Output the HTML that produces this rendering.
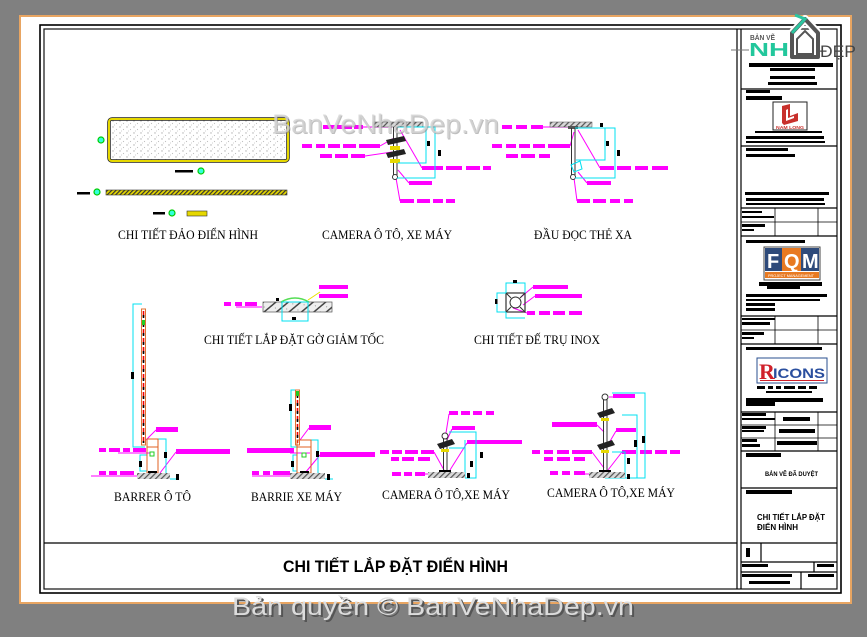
<!DOCTYPE html>
<html><head><meta charset="utf-8">
<style>html,body{margin:0;padding:0;background:#808080;overflow:hidden}svg{display:block}</style>
</head><body>
<svg width="867" height="637" viewBox="0 0 867 637" xmlns="http://www.w3.org/2000/svg">
<defs>
<pattern id="dots" width="7" height="6" patternUnits="userSpaceOnUse"><rect width="7" height="6" fill="#fff"/><circle cx="1" cy="1" r="0.7" fill="#b0b0b0"/><circle cx="4.5" cy="3.5" r="0.6" fill="#c0c0c0"/><circle cx="2.5" cy="5" r="0.4" fill="#999"/></pattern>
<pattern id="yh" width="3" height="3" patternUnits="userSpaceOnUse" patternTransform="rotate(45)"><rect width="3" height="3" fill="#e6d800"/><rect width="1.2" height="3" fill="#333"/></pattern>
<pattern id="gh" width="4" height="4" patternUnits="userSpaceOnUse" patternTransform="rotate(45)"><rect width="4" height="4" fill="#d8d8d8"/><rect width="1.2" height="4" fill="#555"/></pattern>
<pattern id="gh2" width="8" height="8" patternUnits="userSpaceOnUse" patternTransform="rotate(50)"><rect width="8" height="8" fill="#eee"/><rect width="1.5" height="8" fill="#444"/><circle cx="5" cy="3" r="0.5" fill="#777"/></pattern>
</defs>
<rect width="867" height="637" fill="#808080"/>
<!-- sheet -->
<rect x="20" y="16" width="831" height="587" fill="#fff" stroke="#e8a562" stroke-width="2"/>
<!-- frame -->
<rect x="40" y="25" width="801" height="568" fill="none" stroke="#000" stroke-width="1.6"/>
<rect x="44" y="29" width="793" height="560" fill="none" stroke="#111" stroke-width="1.2"/>
<line x1="737" y1="29" x2="737" y2="589" stroke="#000" stroke-width="1.2"/>
<line x1="741" y1="29" x2="741" y2="589" stroke="#000" stroke-width="1.2"/>
<line x1="44" y1="543" x2="737" y2="543" stroke="#000" stroke-width="1.2"/>
<text x="283" y="572" font-family="Liberation Sans, sans-serif" font-weight="bold" font-size="17" textLength="225" lengthAdjust="spacingAndGlyphs">CHI TIẾT LẮP ĐẶT ĐIỂN HÌNH</text>

<!-- captions -->
<g font-family="Liberation Serif, serif" font-size="13" fill="#000">
<text x="118" y="239" textLength="140" lengthAdjust="spacingAndGlyphs">CHI TIẾT ĐẢO ĐIỂN HÌNH</text>
<text x="322" y="239" textLength="130" lengthAdjust="spacingAndGlyphs">CAMERA Ô TÔ, XE MÁY</text>
<text x="534" y="239" textLength="98" lengthAdjust="spacingAndGlyphs">ĐẦU ĐỌC THẺ XA</text>
<text x="204" y="344" textLength="180" lengthAdjust="spacingAndGlyphs">CHI TIẾT LẮP ĐẶT GỜ GIẢM TỐC</text>
<text x="474" y="344" textLength="126" lengthAdjust="spacingAndGlyphs">CHI TIẾT ĐẾ TRỤ INOX</text>
<text x="114" y="501" textLength="77" lengthAdjust="spacingAndGlyphs">BARRER Ô TÔ</text>
<text x="251" y="501" textLength="91" lengthAdjust="spacingAndGlyphs">BARRIE XE MÁY</text>
<text x="382" y="499" textLength="128" lengthAdjust="spacingAndGlyphs">CAMERA Ô TÔ,XE MÁY</text>
<text x="547" y="497" textLength="128" lengthAdjust="spacingAndGlyphs">CAMERA Ô TÔ,XE MÁY</text>
</g>

<!-- Detail 1: dao -->
<rect x="109" y="119" width="179" height="42" rx="3" fill="url(#dots)" stroke="#222" stroke-width="3.5"/>
<rect x="109" y="119" width="179" height="42" rx="3" fill="none" stroke="#e6d800" stroke-width="2"/>
<circle cx="101" cy="140" r="3" fill="#3fd" stroke="#0c0" stroke-width="1.2"/>
<rect x="175" y="170" width="18" height="2.5" fill="#000"/>
<circle cx="201" cy="171" r="3" fill="#3fd" stroke="#0c0" stroke-width="1.2"/>
<rect x="106" y="190" width="181" height="5" fill="url(#yh)" stroke="#333" stroke-width="0.6"/>
<rect x="77" y="192" width="13" height="2.5" fill="#000"/>
<circle cx="97" cy="192" r="3" fill="#3fd" stroke="#0c0" stroke-width="1.2"/>
<rect x="153" y="212" width="12" height="2.5" fill="#000"/>
<circle cx="172" cy="213" r="3" fill="#3fd" stroke="#0c0" stroke-width="1.2"/>
<rect x="187" y="211" width="20" height="5" fill="#e6d800" stroke="#333" stroke-width="0.6"/>

<g fill="#ff00ff">
<!-- Detail 2 -->
<rect x="323" y="125" width="12" height="4"/><rect x="337" y="125" width="15" height="4"/><rect x="354" y="125" width="9" height="4"/>
<rect x="302" y="144" width="10" height="4"/><rect x="316" y="144" width="9" height="4"/><rect x="328" y="144" width="12" height="4"/><rect x="343" y="144" width="13" height="4"/><rect x="359" y="144" width="21" height="4"/>
<rect x="320" y="154" width="12" height="4"/><rect x="335" y="154" width="13" height="4"/><rect x="351" y="154" width="14" height="4"/>
<rect x="422" y="166" width="21" height="4"/><rect x="446" y="166" width="16" height="4"/><rect x="466" y="166" width="14" height="4"/><rect x="483" y="166" width="8" height="4"/>
<rect x="409" y="181" width="23" height="4"/>
<rect x="400" y="199" width="14" height="4"/><rect x="417" y="199" width="13" height="4"/><rect x="433" y="199" width="10" height="4"/><rect x="446" y="199" width="9" height="4"/>
<!-- Detail 3 -->
<rect x="502" y="125" width="10" height="4"/><rect x="516" y="125" width="11" height="4"/><rect x="531" y="125" width="12" height="4"/>
<rect x="492" y="144" width="10" height="4"/><rect x="506" y="144" width="10" height="4"/><rect x="519" y="144" width="11" height="4"/><rect x="533" y="144" width="12" height="4"/><rect x="548" y="144" width="22" height="4"/>
<rect x="506" y="154" width="12" height="4"/><rect x="521" y="154" width="14" height="4"/><rect x="539" y="154" width="11" height="4"/>
<rect x="600" y="166" width="14" height="4"/><rect x="617" y="166" width="14" height="4"/><rect x="635" y="166" width="13" height="4"/><rect x="652" y="166" width="16" height="4"/>
<rect x="587" y="181" width="24" height="4"/>
<rect x="577" y="199" width="13" height="4"/><rect x="593" y="199" width="13" height="4"/><rect x="610" y="199" width="10" height="4"/><rect x="624" y="199" width="9" height="4"/>
<!-- Detail 4 -->
<rect x="156" y="427" width="22" height="5"/>
<rect x="99" y="448" width="7" height="4"/><rect x="109" y="448" width="11" height="4"/><rect x="123" y="448" width="7" height="4"/><rect x="133" y="448" width="13" height="4"/>
<rect x="176" y="449" width="54" height="5"/>
<rect x="99" y="471" width="7" height="4"/><rect x="109" y="471" width="8" height="4"/><rect x="120" y="471" width="14" height="4"/>
<!-- Detail 5 -->
<rect x="309" y="425" width="22" height="5"/>
<rect x="247" y="448" width="47" height="5"/>
<rect x="320" y="452" width="55" height="5"/>
<rect x="252" y="471" width="7" height="4"/><rect x="263" y="471" width="7" height="4"/><rect x="273" y="471" width="17" height="4"/>
<!-- Detail 6 -->
<rect x="224" y="302" width="7" height="4"/><rect x="235" y="302" width="7" height="4"/><rect x="245" y="302" width="12" height="4"/>
<rect x="319" y="285" width="29" height="4"/><rect x="319" y="294" width="29" height="4"/>
<!-- Detail 7 -->
<rect x="533" y="285" width="35" height="4"/>
<rect x="535" y="294" width="47" height="4"/>
<rect x="527" y="311" width="8" height="4"/><rect x="539" y="311" width="11" height="4"/><rect x="553" y="311" width="12" height="4"/><rect x="569" y="311" width="13" height="4"/>
<!-- Detail 8 -->
<rect x="449" y="411" width="9" height="4"/><rect x="461" y="411" width="9" height="4"/><rect x="473" y="411" width="9" height="4"/><rect x="486" y="411" width="8" height="4"/>
<rect x="452" y="426" width="23" height="4"/>
<rect x="467" y="440" width="55" height="4"/>
<rect x="380" y="450" width="9" height="4"/><rect x="392" y="450" width="10" height="4"/><rect x="405" y="450" width="13" height="4"/><rect x="421" y="450" width="13" height="4"/>
<rect x="391" y="457" width="8" height="4"/><rect x="402" y="457" width="12" height="4"/><rect x="418" y="457" width="12" height="4"/>
<rect x="392" y="472" width="9" height="4"/><rect x="404" y="472" width="8" height="4"/><rect x="415" y="472" width="10" height="4"/>
<!-- Detail 9 -->
<rect x="613" y="394" width="22" height="4"/>
<rect x="552" y="422" width="45" height="5"/>
<rect x="616" y="428" width="20" height="4"/>
<rect x="532" y="450" width="8" height="4"/><rect x="544" y="450" width="9" height="4"/><rect x="557" y="450" width="12" height="4"/><rect x="572" y="450" width="20" height="4"/>
<rect x="622" y="450" width="14" height="4"/><rect x="640" y="450" width="12" height="4"/><rect x="655" y="450" width="12" height="4"/><rect x="670" y="450" width="10" height="4"/>
<rect x="544" y="457" width="9" height="4"/><rect x="557" y="457" width="13" height="4"/><rect x="574" y="457" width="11" height="4"/>
<rect x="550" y="471" width="8" height="4"/><rect x="562" y="471" width="8" height="4"/><rect x="574" y="471" width="11" height="4"/>
</g>

<!-- magenta leaders -->
<g stroke="#ff00ff" stroke-width="1" fill="none">
<path d="M363 127 L392 127"/><path d="M380 146 L394 138"/><path d="M365 156 L392 152"/>
<path d="M422 168 L400 130"/><path d="M409 183 L398 170"/><path d="M400 201 L396 178"/>
<path d="M543 127 L570 127"/><path d="M570 146 L574 132"/>
<path d="M600 168 L578 130"/><path d="M587 183 L578 172"/><path d="M577 201 L574 178"/>
<path d="M156 430 L146 440"/><path d="M118 453 L150 453"/><path d="M176 452 L160 473"/><path d="M91 476 L137 476"/>
<path d="M309 428 L300 440"/><path d="M290 453 L310 453"/><path d="M320 455 L305 473"/><path d="M252 476 L290 476"/>
<path d="M236 307 L262 307"/>
<path d="M533 287 L521 297"/><path d="M535 296 L523 305"/><path d="M527 313 L513 308"/>
<path d="M449 414 L446 433"/><path d="M452 429 L447 440"/><path d="M467 443 L450 470"/><path d="M434 452 L444 470"/><path d="M425 474 L440 474"/>
<path d="M613 397 L609 397"/><path d="M597 425 L604 432"/><path d="M616 431 L609 443"/><path d="M592 452 L604 468"/><path d="M622 452 L608 470"/><path d="M585 474 L600 474"/>
</g>

<!-- Detail 2 body -->
<rect x="373" y="122" width="50" height="5" fill="url(#gh)" stroke="#555" stroke-width="0.5"/>
<line x1="393.5" y1="127" x2="393.5" y2="175" stroke="#333" stroke-width="1"/>
<line x1="397" y1="127" x2="397" y2="175" stroke="#333" stroke-width="1"/>
<circle cx="395" cy="177" r="2.5" fill="#fff" stroke="#333"/>
<polygon points="386,140 404,136 406,141 388,145" fill="#222"/>
<polygon points="386,153 404,149 406,154 388,158" fill="#222"/>
<rect x="390" y="146" width="10" height="4" fill="#e6d800"/>
<rect x="390" y="159" width="10" height="4" fill="#e6d800"/>
<g stroke="#00e0f0" stroke-width="1" fill="none">
<path d="M397 127 H435 V178 H397"/><path d="M426 127 V163 H398"/>
</g>
<rect x="427" y="141" width="3" height="5" fill="#000"/><rect x="438" y="150" width="3" height="6" fill="#000"/>
<!-- Detail 3 body -->
<rect x="550" y="122" width="42" height="5" fill="url(#gh)" stroke="#555" stroke-width="0.5"/>
<rect x="568" y="126" width="10" height="3" fill="#555"/>
<line x1="571.5" y1="128" x2="571.5" y2="175" stroke="#333"/>
<line x1="575" y1="128" x2="575" y2="175" stroke="#333"/>
<circle cx="573" cy="177" r="2.5" fill="#fff" stroke="#333"/>
<g stroke="#00e0f0" stroke-width="1" fill="none">
<path d="M575 128 H615 V178 H575"/><path d="M605 128 V160 H576"/><path d="M571 165 L580 161 L582 169 L574 172 Z"/>
</g>
<rect x="600" y="123" width="3" height="4" fill="#000"/><rect x="606" y="141" width="3" height="5" fill="#000"/><rect x="617" y="150" width="3" height="6" fill="#000"/>

<!-- Detail 4: barrier car -->
<g stroke="#00e0f0" stroke-width="1" fill="none">
<path d="M142 304 H133 V447 H145"/><path d="M158 439 H166 V476 H158"/><path d="M147 455 H140 V471 H147"/><path d="M170 479 H178"/>
</g>
<rect x="131" y="372" width="3" height="7" fill="#000"/>
<rect x="141.5" y="309" width="4" height="136" fill="#fff" stroke="#e07030" stroke-width="1"/>
<line x1="143.5" y1="311" x2="143.5" y2="443" stroke="#e00" stroke-width="1.6" stroke-dasharray="6,3"/>
<line x1="143.5" y1="315" x2="143.5" y2="443" stroke="#000" stroke-width="1.6" stroke-dasharray="3,6"/>
<rect x="142" y="320" width="3" height="5" fill="#2c2"/>
<rect x="147" y="439" width="11" height="34" fill="none" stroke="#e06020" stroke-width="1"/>
<line x1="147" y1="447" x2="158" y2="447" stroke="#e06020"/>
<rect x="150" y="452" width="4" height="4" fill="none" stroke="#2c2"/>
<rect x="164" y="452" width="3" height="6" fill="#000"/><rect x="139" y="461" width="3" height="6" fill="#000"/><rect x="176" y="474" width="3" height="6" fill="#000"/>
<rect x="137" y="473" width="33" height="6" fill="url(#gh)"/>
<rect x="148" y="471" width="9" height="2" fill="#000"/>
<!-- Detail 5: barrier bike -->
<g stroke="#00e0f0" stroke-width="1" fill="none">
<path d="M296 390 H291 V447 H298"/><path d="M311 440 H318 V476 H311"/><path d="M297 455 H293 V471 H297"/><path d="M325 479 H333"/>
</g>
<rect x="289" y="404" width="3" height="7" fill="#000"/>
<rect x="295.5" y="390" width="4" height="55" fill="#fff" stroke="#e07030"/>
<line x1="297.5" y1="392" x2="297.5" y2="443" stroke="#e00" stroke-width="1.6" stroke-dasharray="5,3"/>
<line x1="297.5" y1="395" x2="297.5" y2="443" stroke="#000" stroke-width="1.6" stroke-dasharray="3,5"/>
<rect x="296" y="391" width="3" height="5" fill="#2c2"/>
<rect x="297" y="440" width="14" height="33" fill="none" stroke="#e06020"/>
<line x1="297" y1="447" x2="311" y2="447" stroke="#e06020"/>
<rect x="302" y="453" width="4" height="4" fill="none" stroke="#2c2"/>
<rect x="316" y="451" width="3" height="6" fill="#000"/><rect x="291" y="461" width="3" height="6" fill="#000"/><rect x="327" y="474" width="3" height="6" fill="#000"/>
<rect x="290" y="473" width="35" height="6" fill="url(#gh)"/>
<rect x="300" y="471" width="9" height="2" fill="#000"/>

<!-- Detail 6: speed bump -->
<rect x="263" y="302" width="69" height="10" fill="url(#gh2)" stroke="#555" stroke-width="0.7"/>
<path d="M281 302 Q295 294 309 302" fill="none" stroke="#5d5" stroke-width="1.5"/>
<rect x="282" y="302" width="26" height="19" fill="none" stroke="#00e0f0"/>
<rect x="292" y="317" width="4" height="3" fill="#000"/><rect x="276" y="298" width="3" height="3" fill="#000"/>
<line x1="308" y1="300" x2="320" y2="292" stroke="#e6e000"/>
<!-- Detail 7: inox base -->
<rect x="506" y="293" width="19" height="19" fill="none" stroke="#333" stroke-width="1.2"/>
<circle cx="515.5" cy="302.5" r="5.5" fill="none" stroke="#333"/>
<path d="M506 293 L511 298 M525 293 L520 298 M506 312 L511 307 M525 312 L520 307" stroke="#333"/>
<g stroke="#00e0f0" fill="none"><path d="M506 293 V283 H525 V293"/><path d="M506 293 H497 V312 H506"/><path d="M506 312 V318 H525"/></g>
<rect x="513" y="280" width="4" height="3" fill="#000"/><rect x="495" y="299" width="2.5" height="5" fill="#000"/>

<!-- Detail 8 -->
<g stroke="#00e0f0" fill="none"><path d="M449 432 H476 V478 H465"/><path d="M465 440 V478"/><path d="M449 448 H465"/></g>
<line x1="443.5" y1="438" x2="443.5" y2="472" stroke="#333"/><line x1="447" y1="438" x2="447" y2="472" stroke="#333"/>
<circle cx="445" cy="436" r="3" fill="#fff" stroke="#333"/>
<polygon points="437,444 452,439 455,444 440,449" fill="#222"/>
<rect x="441" y="449" width="8" height="3" fill="#e6d800"/>
<rect x="428" y="472" width="37" height="6" fill="url(#gh)"/>
<rect x="439" y="470" width="12" height="2" fill="#000"/>
<rect x="470" y="461" width="3" height="6" fill="#000"/><rect x="480" y="452" width="3" height="6" fill="#000"/><rect x="467" y="473" width="3" height="5" fill="#000"/>
<!-- Detail 9 -->
<g stroke="#00e0f0" fill="none"><path d="M612 393 H645 V478 H605"/><path d="M622 415 H637 V478"/><path d="M612 452 H625 V478"/></g>
<line x1="603.5" y1="399" x2="603.5" y2="472" stroke="#333"/><line x1="607" y1="399" x2="607" y2="472" stroke="#333"/>
<circle cx="605" cy="397" r="3" fill="#fff" stroke="#333"/>
<polygon points="597,413 612,408 615,413 600,418" fill="#222"/>
<rect x="601" y="418" width="8" height="3" fill="#e6d800"/>
<polygon points="597,445 612,440 615,445 600,450" fill="#222"/>
<rect x="601" y="450" width="8" height="3" fill="#e6d800"/>
<rect x="589" y="472" width="36" height="6" fill="url(#gh)"/>
<rect x="599" y="470" width="12" height="2" fill="#000"/>
<rect x="634" y="440" width="3" height="7" fill="#000"/><rect x="642" y="436" width="3" height="7" fill="#000"/><rect x="627" y="458" width="3" height="6" fill="#000"/><rect x="627" y="474" width="3" height="5" fill="#000"/>

<!-- Title block lines -->
<g stroke="#000" stroke-width="1.2">
<line x1="741" y1="89" x2="837" y2="89"/>
<line x1="741" y1="146" x2="837" y2="146"/>
<line x1="741" y1="208" x2="837" y2="208"/>
<line x1="741" y1="222" x2="837" y2="222" stroke-width="0.8"/>
<line x1="741" y1="236" x2="837" y2="236"/>
<line x1="775" y1="208" x2="775" y2="236" stroke-width="0.8"/><line x1="818" y1="208" x2="818" y2="236" stroke-width="0.8"/>
<line x1="741" y1="316" x2="837" y2="316"/>
<line x1="741" y1="330" x2="837" y2="330" stroke-width="0.8"/>
<line x1="741" y1="344" x2="837" y2="344"/>
<line x1="775" y1="316" x2="775" y2="344" stroke-width="0.8"/><line x1="818" y1="316" x2="818" y2="344" stroke-width="0.8"/>
<line x1="741" y1="412" x2="837" y2="412"/>
<line x1="741" y1="425" x2="837" y2="425" stroke-width="0.8"/>
<line x1="741" y1="438" x2="837" y2="438" stroke-width="0.8"/>
<line x1="741" y1="451" x2="837" y2="451"/>
<line x1="775" y1="412" x2="775" y2="451" stroke-width="0.8"/><line x1="818" y1="412" x2="818" y2="451" stroke-width="0.8"/>
<line x1="741" y1="488" x2="837" y2="488"/>
<line x1="741" y1="543" x2="837" y2="543"/>
<line x1="741" y1="562" x2="837" y2="562"/>
<line x1="761" y1="543" x2="761" y2="562"/>
<line x1="741" y1="572" x2="837" y2="572"/>
<line x1="814" y1="562" x2="814" y2="572"/>
<line x1="801" y1="572" x2="801" y2="589"/>
</g>
<!-- title block bars -->
<g fill="#000">
<rect x="749" y="63" width="84" height="4"/><rect x="770" y="68" width="45" height="3"/><rect x="770" y="76" width="45" height="3"/><rect x="768" y="82" width="49" height="3"/>
<rect x="746" y="90" width="24" height="3"/><rect x="746" y="96" width="36" height="4"/>
<rect x="755" y="131" width="67" height="2"/><rect x="746" y="136" width="78" height="3"/><rect x="746" y="141" width="79" height="2"/>
<rect x="746" y="148" width="42" height="3"/><rect x="746" y="154" width="49" height="3"/>
<rect x="745" y="192" width="84" height="3"/><rect x="746" y="198" width="78" height="3"/><rect x="746" y="203" width="79" height="2"/>
<rect x="742" y="211" width="20" height="2"/><rect x="742" y="216" width="32" height="2"/><rect x="742" y="224" width="23" height="3"/><rect x="742" y="229" width="12" height="2"/>
<rect x="746" y="240" width="59" height="3"/>
<rect x="759" y="282" width="63" height="4"/><rect x="767" y="286" width="33" height="3"/><rect x="746" y="294" width="81" height="3"/><rect x="746" y="299" width="74" height="2"/><rect x="746" y="303" width="29" height="3"/><rect x="746" y="308" width="29" height="3"/>
<rect x="742" y="318" width="33" height="2"/><rect x="742" y="322" width="28" height="3"/><rect x="742" y="332" width="22" height="3"/><rect x="742" y="337" width="12" height="2"/>
<rect x="746" y="347" width="76" height="3"/>
<rect x="757" y="386" width="8" height="3"/><rect x="768" y="386" width="5" height="3"/><rect x="776" y="386" width="5" height="3"/><rect x="784" y="386" width="11" height="3"/><rect x="798" y="386" width="8" height="3"/><rect x="809" y="386" width="8" height="3"/>
<rect x="766" y="391" width="46" height="2"/><rect x="746" y="398" width="77" height="4"/><rect x="746" y="402" width="29" height="4"/>
<rect x="742" y="413" width="24" height="3"/><rect x="742" y="418" width="33" height="2"/><rect x="742" y="426" width="24" height="3"/><rect x="742" y="430" width="22" height="2"/><rect x="742" y="439" width="15" height="3"/><rect x="742" y="444" width="18" height="3"/>
<rect x="783" y="417" width="27" height="4"/><rect x="779" y="429" width="36" height="4"/><rect x="777" y="441" width="40" height="4"/>
<rect x="746" y="453" width="35" height="4"/>
<rect x="746" y="490" width="46" height="4"/>
<rect x="746" y="548" width="4" height="9"/>
<rect x="742" y="564" width="26" height="3"/><rect x="817" y="564" width="17" height="3"/>
<rect x="742" y="574" width="50" height="3"/><rect x="749" y="581" width="41" height="3"/><rect x="808" y="574" width="26" height="3"/>
</g>
<text x="765" y="476" font-family="Liberation Sans, sans-serif" font-weight="bold" font-size="6.5" textLength="53" lengthAdjust="spacingAndGlyphs">BẢN VẼ ĐÃ DUYỆT</text>
<text x="757" y="520" font-family="Liberation Sans, sans-serif" font-weight="bold" font-size="8" textLength="68" lengthAdjust="spacingAndGlyphs">CHI TIẾT LẮP ĐẶT</text>
<text x="757" y="530" font-family="Liberation Sans, sans-serif" font-weight="bold" font-size="8" textLength="41" lengthAdjust="spacingAndGlyphs">ĐIỂN HÌNH</text>

<!-- Nam Long logo -->
<rect x="773" y="102" width="34" height="28" fill="#fff" stroke="#222" stroke-width="1"/>
<path d="M782 106 L790 104 L790 116 L798 113 L798 121 L784 125 L782 123 Z" fill="#c8302c"/>
<path d="M786 110 L788 109 L788 118 L794 116 L794 118 L786 121 Z" fill="#fff"/>
<text x="776" y="129" font-family="Liberation Sans, sans-serif" font-weight="bold" font-size="4.5" fill="#c8302c" textLength="28" lengthAdjust="spacingAndGlyphs">NAM LONG</text>
<!-- FQM logo -->
<rect x="764" y="247" width="56" height="33" fill="#fff" stroke="#444"/>
<rect x="765" y="248" width="17" height="23" fill="#2e4a7a"/>
<rect x="782" y="248" width="19" height="23" fill="#e87a22"/>
<rect x="801" y="248" width="18" height="23" fill="#2e4a7a"/>
<rect x="765" y="272" width="54" height="6" fill="#e87a22"/>
<text x="767" y="268" font-family="Liberation Sans, sans-serif" font-weight="bold" font-size="20" fill="#fff">F</text>
<text x="784" y="268" font-family="Liberation Sans, sans-serif" font-weight="bold" font-size="20" fill="#fff">Q</text>
<text x="802" y="268" font-family="Liberation Sans, sans-serif" font-weight="bold" font-size="20" fill="#fff">M</text>
<text x="768" y="277" font-family="Liberation Sans, sans-serif" font-size="4" fill="#fff" textLength="46" lengthAdjust="spacingAndGlyphs">PROJECT MANAGEMENT</text>
<!-- Ricons logo -->
<rect x="757" y="358" width="70" height="25" fill="#fff" stroke="#2a4f8f" stroke-width="1"/>
<text x="759" y="379" font-family="Liberation Serif, serif" font-weight="bold" font-size="22" fill="#d0202a">R</text>
<text x="773" y="378" font-family="Liberation Sans, sans-serif" font-weight="bold" font-size="14" fill="#2a4f9f" textLength="52" lengthAdjust="spacingAndGlyphs">ICONS</text>
<rect x="760" y="380" width="64" height="1" fill="#d0202a"/>

<!-- Top-right brand logo -->
<line x1="731" y1="50" x2="749" y2="50" stroke="#777" stroke-width="1"/>
<path d="M792 57 V33 L805 19 L818 33 V57 Z" fill="none" stroke="#fff" stroke-width="8" stroke-linejoin="round"/>
<path d="M792 57 V33 L805 19 L818 33 V57 Z" fill="none" stroke="#555" stroke-width="4" stroke-linejoin="round"/>
<path d="M797 54 V39 L805 31 L813 39 V54 Z" fill="none" stroke="#555" stroke-width="2"/>
<path d="M795 15 L805 19 L792 33" fill="none" stroke="#2cc5a0" stroke-width="3"/>
<text x="750" y="40" font-family="Liberation Sans, sans-serif" font-weight="bold" font-size="7.5" fill="#555" textLength="25" lengthAdjust="spacingAndGlyphs">BẢN VẼ</text>
<text x="749" y="56" font-family="Liberation Sans, sans-serif" font-weight="bold" font-size="18" fill="#22c79c" textLength="40" lengthAdjust="spacingAndGlyphs">NH</text>
<text x="820" y="57" font-family="Liberation Sans, sans-serif" font-size="17" fill="#444" textLength="36" lengthAdjust="spacingAndGlyphs">ĐẸP</text>

<!-- watermarks -->
<text x="273" y="134" font-family="Liberation Sans, sans-serif" font-size="27" fill="#888" fill-opacity="0.55" textLength="227" lengthAdjust="spacingAndGlyphs">BanVeNhaDep.vn</text>
<text x="272" y="133" font-family="Liberation Sans, sans-serif" font-size="27" fill="#d4d4d4" fill-opacity="0.8" textLength="227" lengthAdjust="spacingAndGlyphs">BanVeNhaDep.vn</text>
<text x="234" y="617" font-family="Liberation Sans, sans-serif" font-size="25" fill="#555" textLength="402" lengthAdjust="spacingAndGlyphs">Bản quyền © BanVeNhaDep.vn</text>
<text x="232" y="615" font-family="Liberation Sans, sans-serif" font-size="25" fill="#dcdcdc" textLength="402" lengthAdjust="spacingAndGlyphs">Bản quyền © BanVeNhaDep.vn</text>
</svg>
</body></html>
